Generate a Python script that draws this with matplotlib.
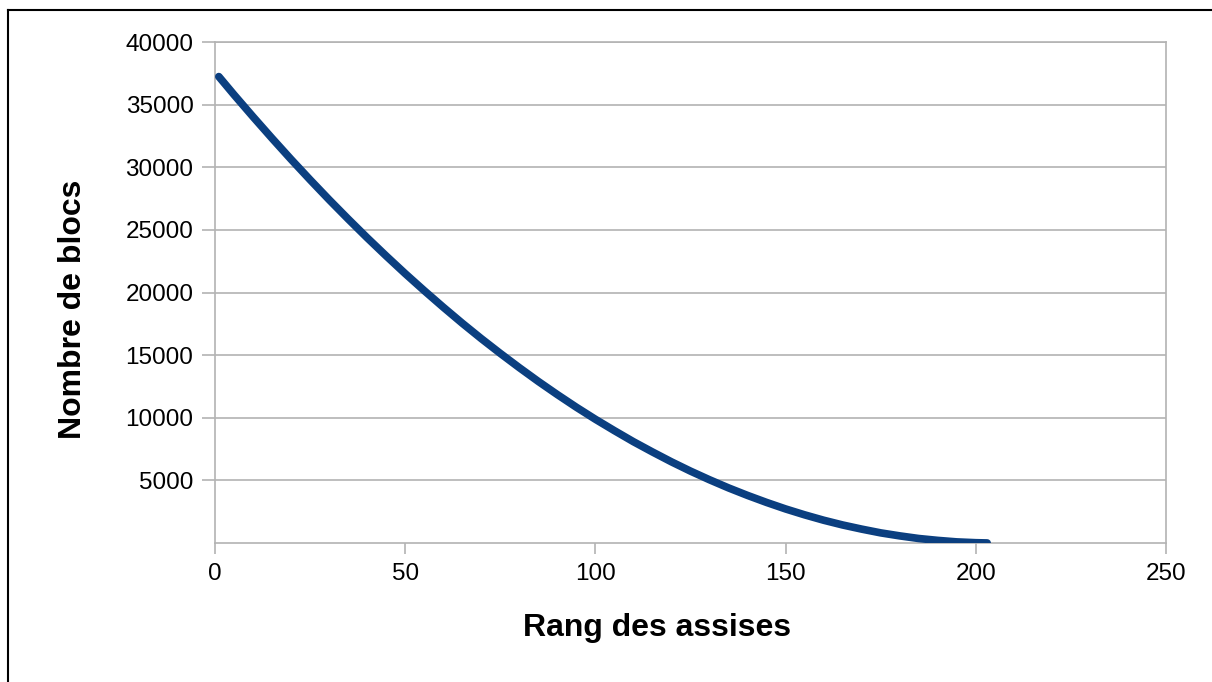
import matplotlib
matplotlib.use('Agg')
import matplotlib.pyplot as plt
from matplotlib.lines import Line2D

# rang des assises / nombre de blocs
rang = [1, 5, 10, 15, 20, 25, 30, 35, 40, 45, 50, 55, 60, 65, 70, 75, 80,
        85, 90, 95, 100, 105, 110, 115, 120, 125, 130, 135, 140, 145, 150,
        155, 160, 165, 170, 175, 180, 185, 190, 195, 200, 203]
blocs = [37240, 35790, 34030, 32310, 30630, 29000, 27410, 25870, 24370,
         22920, 21510, 20150, 18830, 17550, 16320, 15140, 14000, 12900,
         11850, 10840, 9880, 8970, 8090, 7270, 6480, 5740, 5050, 4400,
         3800, 3240, 2720, 2250, 1820, 1440, 1110, 810, 570, 360, 210,
         90, 25, 5]
xticks = [0, 50, 100, 150, 200, 250]
yticks = [5000, 10000, 15000, 20000, 25000, 30000, 35000, 40000]

plt.rcParams['font.family'] = ['Liberation Sans', 'DejaVu Sans']
grey = '#b3b3b3'

fig = plt.figure(figsize=(12.12, 6.82), dpi=100)
ax = fig.add_axes([0.1774, 0.2038, 0.9620 - 0.1774, 0.9384 - 0.2038])

ax.plot(rang, blocs, color='#0b3f80', linewidth=5.5, solid_capstyle='round',
        solid_joinstyle='round', zorder=3)

ax.set_xlim(0, 250)
ax.set_ylim(0, 40000)
ax.set_xticks(xticks)
ax.set_yticks(yticks)
ax.grid(True, axis='y', color=grey, linewidth=1.2)
ax.set_axisbelow(True)
for s in ax.spines.values():
    s.set_color(grey)
    s.set_linewidth(1.2)
ax.tick_params(axis='y', length=9.5, width=1.2, color=grey, labelsize=17.5, pad=6)
ax.tick_params(axis='x', length=8, width=1.2, color=grey, labelsize=17.5, pad=6.5)

ax.set_xlabel('Rang des assises', fontsize=23, fontweight='bold')
ax.set_ylabel('Nombre de blocs', fontsize=23, fontweight='bold')
ax.xaxis.set_label_coords(0.4648, -0.1397)
ax.yaxis.set_label_coords(-0.1335, 0.466)

# outer frame (top and left edges)
fig.add_artist(Line2D([8 / 1212, 1], [1 - 9.5 / 682, 1 - 9.5 / 682],
                      transform=fig.transFigure, color='black', linewidth=1.5))
fig.add_artist(Line2D([8 / 1212, 8 / 1212], [0, 1 - 9.5 / 682],
                      transform=fig.transFigure, color='black', linewidth=1.5))

fig.savefig('out.png', dpi=100)
